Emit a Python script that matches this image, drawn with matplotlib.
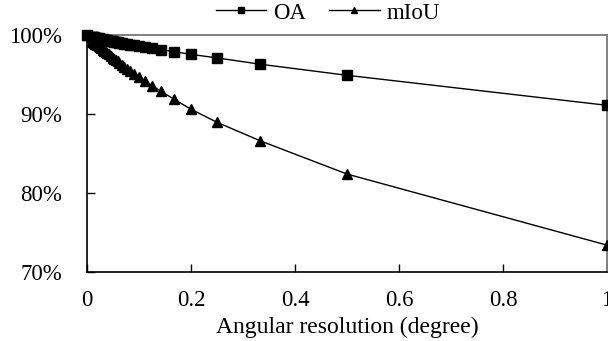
import matplotlib.pyplot as plt
from matplotlib.ticker import FuncFormatter

# Angular resolution (degree) and the two accuracy curves
resolution = [1, 0.5, 0.3333, 0.25, 0.2, 0.1667, 0.1429, 0.125, 0.1111, 0.1,
              0.0909, 0.0833, 0.0769, 0.0714, 0.0667, 0.0625, 0.0588, 0.0556,
              0.0526, 0.05, 0.0455, 0.0417, 0.0385, 0.0357, 0.0333, 0.0303,
              0.0278, 0.025, 0.0222, 0.02, 0.0179, 0.0159, 0.0143, 0.0125,
              0.0111, 0.01, 0]
oa = [91.1, 94.9, 96.3, 97.1, 97.55, 97.9, 98.15, 98.35, 98.5, 98.6,
      98.7, 98.78, 98.86, 98.92, 98.98, 99.03, 99.07, 99.12,
      99.15, 99.19, 99.25, 99.3, 99.34, 99.38, 99.42, 99.46,
      99.49, 99.53, 99.57, 99.61, 99.64, 99.68, 99.7, 99.73,
      99.76, 99.78, 100]
miou = [73.4, 82.4, 86.6, 88.95, 90.6, 91.9, 92.85, 93.6, 94.2, 94.7,
        95.1, 95.45, 95.75, 96.0, 96.25, 96.5, 96.7, 96.85,
        97.0, 97.15, 97.4, 97.6, 97.75, 97.9, 98.0, 98.15,
        98.3, 98.45, 98.6, 98.7, 98.8, 98.9, 99.0, 99.1,
        99.15, 99.2, 100]

x_ticks = [0, 0.2, 0.4, 0.6, 0.8, 1]
x_labels = ["0", "0.2", "0.4", "0.6", "0.8", "1"]
y_ticks = [70, 80, 90, 100]

plt.rcParams['font.family'] = ['Liberation Serif', 'DejaVu Serif']

fig = plt.figure(figsize=(6.08, 3.41), dpi=100)
ax = fig.add_axes([87 / 608, 1 - 272 / 341, 520 / 608, 237 / 341])

ax.plot(resolution, oa, '-s', color='black', lw=1.0, markersize=7,
        clip_on=False, label='OA', zorder=3)
ax.plot(resolution, miou, '-^', color='black', lw=1.0, markersize=7.5,
        clip_on=False, label='mIoU', zorder=3)

ax.set_xlim(0, 1)
ax.set_ylim(70, 100)
ax.set_xticks(x_ticks)
ax.set_xticklabels(x_labels)
ax.set_yticks(y_ticks)
ax.yaxis.set_major_formatter(FuncFormatter(lambda v, p: f"{v:.0f}%"))

ax.tick_params(axis='both', direction='in', length=6, width=1,
               labelsize=16.5, colors='black')
ax.tick_params(axis='y', pad=18)
ax.tick_params(axis='x', pad=13)

for side in ['left', 'bottom']:
    ax.spines[side].set_color('black')
    ax.spines[side].set_linewidth(1.2)
for side in ['top', 'right']:
    ax.spines[side].set_color('#808080')
    ax.spines[side].set_linewidth(1.4)

ax.set_xlabel("Angular resolution (degree)", fontsize=17, labelpad=4)

fig.legend(loc='center', bbox_to_anchor=(328 / 608, 1 - 13 / 341),
           ncol=2, frameon=False, fontsize=16.5, markerscale=0.65,
           handlelength=2.2, handletextpad=0.3, columnspacing=1.0,
           borderpad=0)

fig.savefig('out.png', dpi=100)
